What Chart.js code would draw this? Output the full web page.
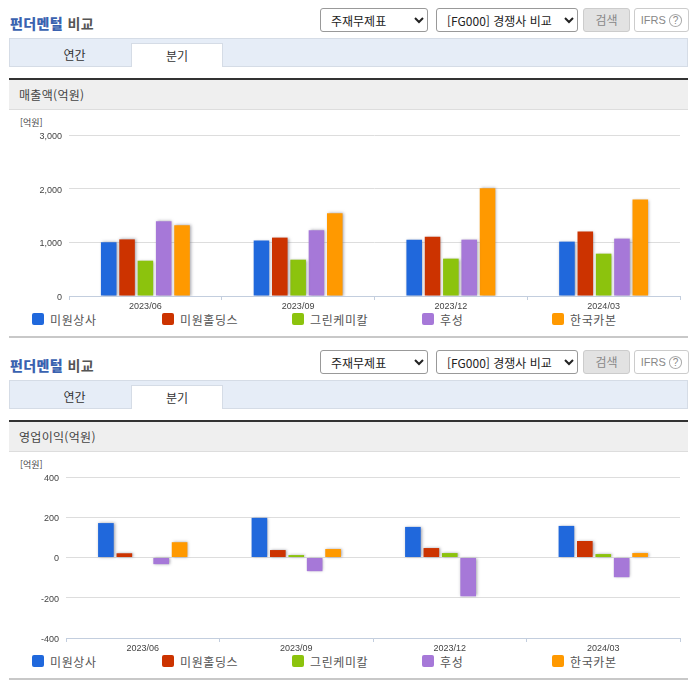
<!DOCTYPE html>
<html lang="ko">
<head>
<meta charset="utf-8">
<script src="https://cdn.jsdelivr.net/npm/chart.js@4"></script>
<style>
html, body { margin: 0; padding: 0; background: #fff; }
body { width: 696px; height: 684px; position: relative; overflow: hidden; font-family: "Noto Sans CJK KR", sans-serif; color: #333; }
.abs { position: absolute; }
.title { left: 10px; font-size: 14px; font-weight: 700; line-height: 18px; color: #555; letter-spacing: 0.4px; }
.title b { color: #3a62b0; }
select { position: absolute; height: 24px; font: 12px "Noto Sans CJK KR", sans-serif; color: #222; background: #fff; border: 1px solid #999; border-radius: 3px; padding: 0 0 0 6px; }
.btn { position: absolute; height: 22px; border-radius: 3px; font-size: 12px; line-height: 22px; text-align: center; }
.search { left: 583px; width: 45px; background: #e2e2e2; border: 1px solid #ccc; color: #888; }
.ifrs { left: 634px; width: 53px; border: 1px solid #ccc; color: #888; background: #fff; font: 11px "Liberation Sans", sans-serif; line-height: 22px; }
.tabs { left: 9px; width: 679px; height: 29px; background: #e6edf7; border: 1px solid #d5dce6; box-sizing: border-box; }
.tab { position: absolute; top: 4px; height: 24px; font-size: 12px; line-height: 23px; text-align: center; color: #333; }
.tab.on { left: 121px; width: 92px; top: 4px; background: #fff; border: 1px solid #d5dce6; border-bottom: 0; box-sizing: border-box; }
.head { left: 9px; width: 679px; height: 32px; background: #efefef; border-top: 2px solid #333; border-bottom: 1px solid #ddd; font-size: 12px; line-height: 30px; padding-left: 10px; box-sizing: border-box; color: #444; letter-spacing: 0.3px; }
.unit { left: 20px; font-size: 9px; line-height: 11px; color: #444; }
.legend span { position: absolute; font-size: 12px; line-height: 16px; color: #555; white-space: nowrap; padding-left: 18px; letter-spacing: 0.6px; }
.legend i { position: absolute; left: 0; top: 1px; width: 12px; height: 12px; border-radius: 2px; }
.rule { left: 9px; width: 679px; height: 2px; background: #c8c8c8; }
canvas { position: absolute; left: 0; }
</style>
</head>
<body>
<div id="page"></div>
<script>
const categories = ['2023/06', '2023/09', '2023/12', '2024/03'];
const companies = ['미원상사', '미원홀딩스', '그린케미칼', '후성', '한국카본'];
const colors = ['#2068dc', '#cc3300', '#8cc30d', '#a678d8', '#ff9900'];

const salesBlue = [1000, 1032, 1050, 1013];
const salesRed = [1055, 1088, 1106, 1200];
const salesGreen = [658, 677, 696, 789];
const salesPurple = [1392, 1224, 1050, 1069];
const salesOrange = [1317, 1541, 2007, 1797];

const profitBlue = [171, 197, 152, 157];
const profitRed = [21, 37, 47, 82];
const profitGreen = [0, 12, 22, 17];
const profitPurple = [-33, -68, -193, -98];
const profitOrange = [76, 42, 0, 22];

const barShadow = {
	id: 'barShadow',
	beforeDatasetDraw(chart) {
		chart.ctx.save();
		chart.ctx.shadowColor = 'rgba(110, 110, 125, 0.65)';
		chart.ctx.shadowOffsetX = 1;
		chart.ctx.shadowOffsetY = 0;
		chart.ctx.shadowBlur = 3;
	},
	afterDatasetDraw(chart) {
		chart.ctx.restore();
	}
};

function addSection(top, heading) {
	const page = document.getElementById('page');
	const html = `
		<div class="abs title" style="top:${top + 14}px"><b>펀더멘털</b> 비교</div>
		<select style="left:320px;top:${top + 8}px;width:108px"><option>주재무제표</option></select>
		<select style="left:436px;top:${top + 8}px;width:142px"><option>[FG000] 경쟁사 비교</option></select>
		<div class="btn search" style="top:${top + 8}px">검색</div>
		<div class="btn ifrs" style="top:${top + 8}px">IFRS <span style="border:1px solid #aaa;border-radius:50%;padding:0 3px;font-size:10px">?</span></div>
		<div class="abs tabs" style="top:${top + 38}px">
			<div class="tab" style="left:0;width:129px">연간</div>
			<div class="tab on">분기</div>
		</div>
		<div class="abs head" style="top:${top + 78}px">${heading}</div>
		<div class="abs unit" style="top:${top + 117}px">[억원]</div>
		<div class="abs legend" style="left:0;top:${top + 312}px">
			${companies.map((name, i) => `<span style="left:${32 + i * 130}px"><i style="background:${colors[i]}"></i>${name}</span>`).join('')}
		</div>
		<div class="abs rule" style="top:${top + 336}px"></div>`;
	page.insertAdjacentHTML('beforeend', html);
}

function addChart(top, height, plotLeft, plotTop, series, min, max, step) {
	const canvas = document.createElement('canvas');
	canvas.style.top = top + 'px';
	canvas.style.width = '696px';
	canvas.style.height = height + 'px';
	canvas.width = 696;
	canvas.height = height;
	document.body.appendChild(canvas);

	new Chart(canvas, {
		type: 'bar',
		plugins: [barShadow],
		data: {
			labels: categories,
			datasets: series.map((values, i) => ({
				label: companies[i],
				data: values,
				backgroundColor: colors[i],
				categoryPercentage: 0.6,
				barPercentage: 0.85
			}))
		},
		options: {
			responsive: false,
			animation: false,
			layout: { padding: { top: plotTop, right: 16, left: 0, bottom: 0 } },
			plugins: { legend: { display: false }, tooltip: { enabled: false } },
			scales: {
				x: {
					grid: { drawOnChartArea: false, color: '#c3cede', tickLength: 4 },
					border: { color: '#c3cede' },
					ticks: { color: '#444', font: { family: 'Liberation Sans', size: 9 }, padding: 1, maxRotation: 0 },
					afterFit(scale) { scale.height = 19; }
				},
				y: {
					min: min,
					max: max,
					grid: { color: '#dddddd', tickLength: 0, drawTicks: false },
					border: { display: false },
					ticks: {
						stepSize: step,
						padding: 7,
						labelOffset: 1.5,
						color: '#444',
						font: { family: 'Liberation Sans', size: 9 },
						callback: v => v.toLocaleString('en-US')
					},
					afterFit(scale) { scale.width = plotLeft; }
				}
			}
		}
	});
}

addSection(0, '매출액(억원)');
addSection(342, '영업이익(억원)');
addChart(120, 195, 69, 15, [salesBlue, salesRed, salesGreen, salesPurple, salesOrange], 0, 3000, 1000);
addChart(462, 195, 66, 15, [profitBlue, profitRed, profitGreen, profitPurple, profitOrange], -400, 400, 200);
</script>
</body>
</html>
